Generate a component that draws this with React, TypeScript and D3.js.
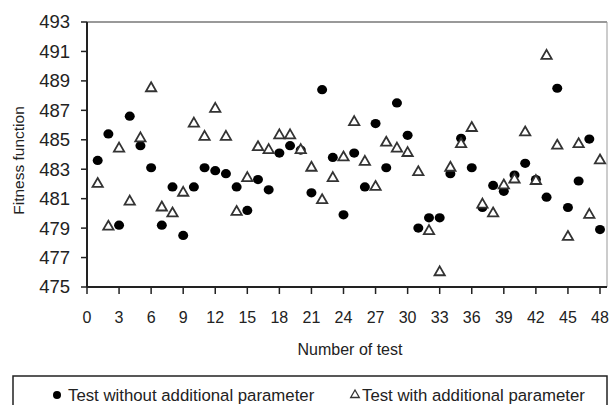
import React from 'react';
import * as d3 from 'd3';

// test numbers 1..48
const tests = d3.range(1, 49);

const withoutParam = [
  483.6, 485.4, 479.2, 486.6, 484.6, 483.1, 479.2, 481.8, 478.5, 481.8,
  483.1, 482.9, 482.7, 481.8, 480.2, 482.3, 481.6, 484.1, 484.6, 484.3,
  481.4, 488.4, 483.8, 479.9, 484.1, 481.8, 486.1, 483.1, 487.5, 485.3,
  479.0, 479.7, 479.7, 482.7, 485.1, 483.1, 480.4, 481.9, 481.5, 482.6,
  483.4, 482.3, 481.1, 488.5, 480.4, 482.2, 485.05, 478.9,
];

const withParam = [
  482.0, 479.1, 484.4, 480.8, 485.1, 488.5, 480.4, 480.0, 481.4, 486.1,
  485.2, 487.1, 485.2, 480.1, 482.4, 484.5, 484.3, 485.3, 485.3, 484.3,
  483.1, 480.9, 482.4, 483.8, 486.2, 483.5, 481.8, 484.8, 484.4, 484.1,
  482.8, 478.8, 476.0, 483.1, 484.7, 485.8, 480.6, 480.0, 481.9, 482.3,
  485.5, 482.2, 490.7, 484.6, 478.4, 484.7, 479.9, 483.6,
];

const xTicks = d3.range(0, 49, 3);
const yTicks = d3.range(475, 494, 2);

const W = 609;
const H = 405;
const font = 'Liberation Sans, Arial, sans-serif';
const ink = '#222';

export default function App() {
  const x = d3.scaleLinear().domain([0, 48]).range([87, 600]);
  const y = d3.scaleLinear().domain([475, 493]).range([287, 22]);
  const right = 607;
  const tri = d3.symbol().type(d3.symbolTriangle).size(46)() as string;

  return (
    <svg width={W} height={H} style={{ position: 'absolute', left: 0, top: 0, background: '#fff' }}>
      {/* plot frame */}
      <line x1={x(0)} x2={right} y1={y(493)} y2={y(493)} stroke="#777" strokeWidth={1.5} />
      <line x1={right} x2={right} y1={y(493)} y2={y(475)} stroke="#999" strokeWidth={1} />

      {/* y axis */}
      <line x1={x(0)} x2={x(0)} y1={y(493)} y2={y(475)} stroke={ink} strokeWidth={2} />
      {yTicks.map(t => (
        <g key={'y' + t}>
          <line x1={x(0) - 6} x2={x(0)} y1={y(t)} y2={y(t)} stroke={ink} strokeWidth={1.5} />
          <text x={70} y={y(t)} dy="0.35em" textAnchor="end" fontFamily={font} fontSize={18.5} fill={ink}>{t}</text>
        </g>
      ))}
      <text transform={`translate(19,${y(484) + 6}) rotate(-90)`} textAnchor="middle" dy="0.35em"
        fontFamily={font} fontSize={15.5} fill={ink}>Fitness function</text>

      {/* x axis */}
      <line x1={x(0)} x2={right} y1={y(475)} y2={y(475)} stroke={ink} strokeWidth={2} />
      {xTicks.map(t => (
        <g key={'x' + t}>
          <line x1={x(t)} x2={x(t)} y1={y(475)} y2={y(475) + 7} stroke={ink} strokeWidth={1.5} />
          <text x={x(t)} y={317} dy="0.35em" textAnchor="middle" fontFamily={font} fontSize={16} fill={ink}>{t}</text>
        </g>
      ))}
      <text x={350} y={349} dy="0.35em" textAnchor="middle" fontFamily={font} fontSize={16} fill={ink}>Number of test</text>

      {/* series */}
      {tests.map((t, i) => (
        <ellipse key={'c' + t} cx={x(t)} cy={y(withoutParam[i])} rx={5} ry={4.6} fill="#000" />
      ))}
      {tests.map((t, i) => (
        <path key={'t' + t} d={tri} transform={`translate(${x(t)},${y(withParam[i])})`}
          fill="#fff" stroke="#333" strokeWidth={1.8} />
      ))}

      {/* legend */}
      <rect x={13} y={376} width={594} height={45} fill="#fff" stroke={ink} strokeWidth={1.5} />
      <circle cx={57} cy={395} r={4} fill="#000" />
      <text x={68} y={395} dy="0.35em" fontFamily={font} fontSize={16.8} fill={ink}>Test without additional parameter</text>
      <path d={d3.symbol().type(d3.symbolTriangle).size(32)() as string} transform="translate(355,395)"
        fill="#fff" stroke="#333" strokeWidth={1.3} />
      <text x={362} y={395} dy="0.35em" fontFamily={font} fontSize={16.8} fill={ink}>Test with additional parameter</text>
    </svg>
  );
}
